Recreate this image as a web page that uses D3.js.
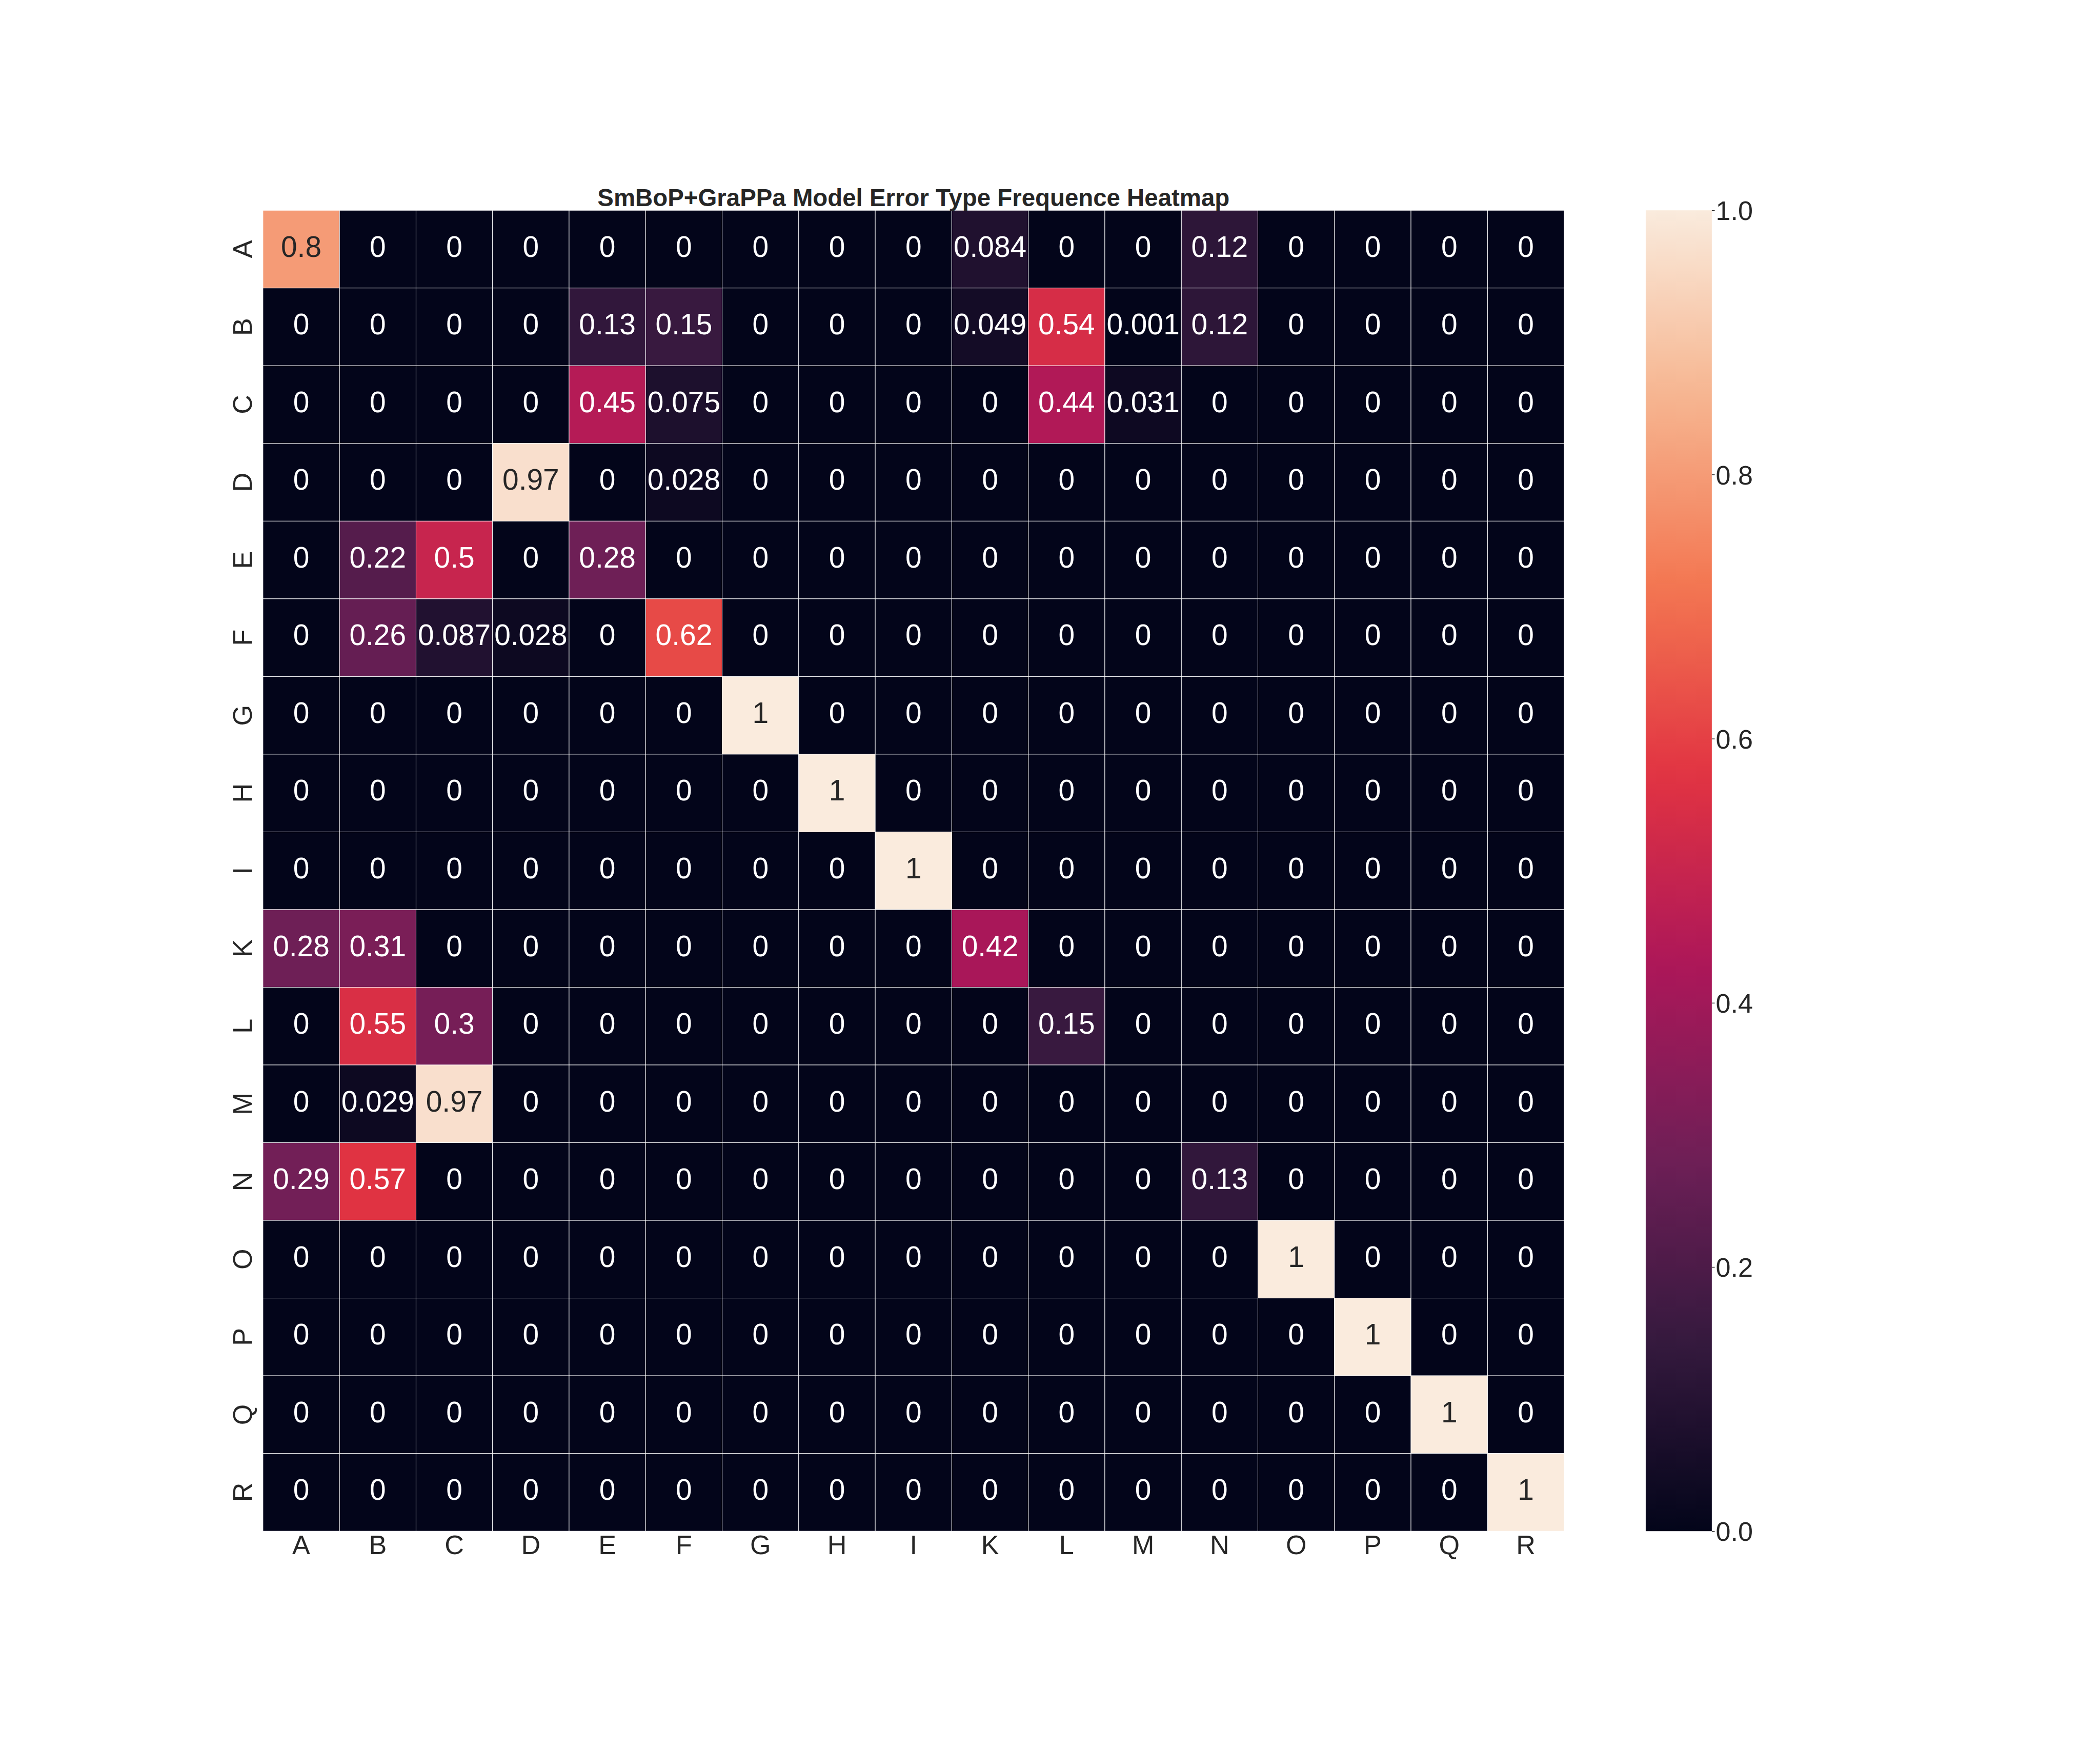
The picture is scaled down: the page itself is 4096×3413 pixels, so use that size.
<!DOCTYPE html>
<html>
<head>
<meta charset="utf-8">
<script src="https://cdn.jsdelivr.net/npm/d3@7"></script>
<style>
  html, body { margin: 0; padding: 0; background: #ffffff; }
  svg { display: block; }
  text { font-family: "Liberation Sans", Arial, sans-serif; }
</style>
</head>
<body>
<svg id="chart" width="4096" height="3413"></svg>
<script>
// ---------------- data ----------------
const titleText = "SmBoP+GraPPa Model Error Type Frequence Heatmap";
const rowLabels = ["A","B","C","D","E","F","G","H","I","K","L","M","N","O","P","Q","R"];
const colLabels = ["A","B","C","D","E","F","G","H","I","K","L","M","N","O","P","Q","R"];
const rowA = [0.8, 0, 0, 0, 0, 0, 0, 0, 0, 0.084, 0, 0, 0.12, 0, 0, 0, 0];
const rowB = [0, 0, 0, 0, 0.13, 0.15, 0, 0, 0, 0.049, 0.54, 0.001, 0.12, 0, 0, 0, 0];
const rowC = [0, 0, 0, 0, 0.45, 0.075, 0, 0, 0, 0, 0.44, 0.031, 0, 0, 0, 0, 0];
const rowD = [0, 0, 0, 0.97, 0, 0.028, 0, 0, 0, 0, 0, 0, 0, 0, 0, 0, 0];
const rowE = [0, 0.22, 0.5, 0, 0.28, 0, 0, 0, 0, 0, 0, 0, 0, 0, 0, 0, 0];
const rowF = [0, 0.26, 0.087, 0.028, 0, 0.62, 0, 0, 0, 0, 0, 0, 0, 0, 0, 0, 0];
const rowG = [0, 0, 0, 0, 0, 0, 1, 0, 0, 0, 0, 0, 0, 0, 0, 0, 0];
const rowH = [0, 0, 0, 0, 0, 0, 0, 1, 0, 0, 0, 0, 0, 0, 0, 0, 0];
const rowI = [0, 0, 0, 0, 0, 0, 0, 0, 1, 0, 0, 0, 0, 0, 0, 0, 0];
const rowK = [0.28, 0.31, 0, 0, 0, 0, 0, 0, 0, 0.42, 0, 0, 0, 0, 0, 0, 0];
const rowL = [0, 0.55, 0.3, 0, 0, 0, 0, 0, 0, 0, 0.15, 0, 0, 0, 0, 0, 0];
const rowM = [0, 0.029, 0.97, 0, 0, 0, 0, 0, 0, 0, 0, 0, 0, 0, 0, 0, 0];
const rowN = [0.29, 0.57, 0, 0, 0, 0, 0, 0, 0, 0, 0, 0, 0.13, 0, 0, 0, 0];
const rowO = [0, 0, 0, 0, 0, 0, 0, 0, 0, 0, 0, 0, 0, 1, 0, 0, 0];
const rowP = [0, 0, 0, 0, 0, 0, 0, 0, 0, 0, 0, 0, 0, 0, 1, 0, 0];
const rowQ = [0, 0, 0, 0, 0, 0, 0, 0, 0, 0, 0, 0, 0, 0, 0, 1, 0];
const rowR = [0, 0, 0, 0, 0, 0, 0, 0, 0, 0, 0, 0, 0, 0, 0, 0, 1];
const matrix = [rowA,rowB,rowC,rowD,rowE,rowF,rowG,rowH,rowI,rowK,rowL,rowM,rowN,rowO,rowP,rowQ,rowR];
const colorbarTicks = [0, 0.2, 0.4, 0.6, 0.8, 1.0];

// rocket colormap key colours
const rocketStops = [0, 1/7, 2/7, 3/7, 4/7, 5/7, 6/7, 1];
const rocketColors = ["#03051a","#35193e","#701f57","#ad1759","#e13342","#f37651","#f6b48f","#faebdd"];

// ---------------- layout (reference pixel space, scaled 0.948) ----------------
const S = 0.948;
const plot = { left: 541, right: 3218, top: 432.7, bottom: 3150 };
const cbar = { left: 3386, right: 3522 };
const textDark = "#262626";

const svg = d3.select("#chart");
const root = svg.append("g").attr("transform", `scale(${S})`);

const x = d3.scaleBand().domain(colLabels).range([plot.left, plot.right]).padding(0);
const y = d3.scaleBand().domain(rowLabels).range([plot.top, plot.bottom]).padding(0);
const color = d3.scaleLinear().domain(rocketStops).range(rocketColors)
  .interpolate(d3.interpolateRgb).clamp(true);
const fmt = d3.format(".2~g");

const cells = [];
matrix.forEach((row, i) => row.forEach((v, j) => cells.push({ r: rowLabels[i], c: colLabels[j], v })));

// cells
root.append("g").selectAll("rect").data(cells).join("rect")
  .attr("x", d => x(d.c)).attr("y", d => y(d.r))
  .attr("width", x.bandwidth()).attr("height", y.bandwidth())
  .attr("fill", d => color(d.v))
  .attr("stroke", "#ffffff").attr("stroke-width", 1);

// annotations
function luminance(c) {
  const rgb = d3.rgb(c);
  const f = ch => { ch /= 255; return ch <= 0.03928 ? ch / 12.92 : Math.pow((ch + 0.055) / 1.055, 2.4); };
  return 0.2126 * f(rgb.r) + 0.7152 * f(rgb.g) + 0.0722 * f(rgb.b);
}
root.append("g").selectAll("text").data(cells).join("text")
  .attr("x", d => x(d.c) + x.bandwidth() / 2)
  .attr("y", d => y(d.r) + y.bandwidth() / 2)
  .attr("dy", "0.26em")
  .attr("text-anchor", "middle")
  .attr("font-size", 60)
  .attr("fill", d => luminance(color(d.v)) > 0.408 ? textDark : "#ffffff")
  .text(d => fmt(d.v));

// x axis
const xAxis = root.append("g").attr("transform", `translate(0,${plot.bottom})`)
  .call(d3.axisBottom(x).tickSize(0).tickPadding(8));
xAxis.select(".domain").remove();
xAxis.selectAll("text").attr("font-size", 55).attr("fill", textDark)
  .attr("font-family", "Liberation Sans, Arial, sans-serif");

// y axis (rotated labels)
const yAxis = root.append("g").attr("transform", `translate(${plot.left},0)`)
  .call(d3.axisLeft(y).tickSize(0));
yAxis.select(".domain").remove();
yAxis.selectAll("text")
  .attr("x", null).attr("dy", null)
  .attr("text-anchor", "middle")
  .attr("transform", "translate(-23,0) rotate(-90)")
  .attr("font-size", 55).attr("fill", textDark)
  .attr("font-family", "Liberation Sans, Arial, sans-serif");

// title
root.append("text")
  .attr("x", (plot.left + plot.right) / 2).attr("y", 424)
  .attr("text-anchor", "middle")
  .attr("font-size", 50).attr("font-weight", "bold").attr("fill", textDark)
  .text(titleText);

// colorbar
const cy = d3.scaleLinear().domain([0, 1]).range([plot.bottom, plot.top]);
const defs = svg.append("defs");
const grad = defs.append("linearGradient").attr("id", "rocketGrad")
  .attr("x1", 0).attr("y1", 1).attr("x2", 0).attr("y2", 0);
d3.range(0, 1.0001, 0.02).forEach(t => {
  grad.append("stop").attr("offset", t).attr("stop-color", color(t));
});
root.append("rect")
  .attr("x", cbar.left).attr("y", cy(1))
  .attr("width", cbar.right - cbar.left).attr("height", cy(0) - cy(1))
  .attr("fill", "url(#rocketGrad)");
const cAxis = root.append("g").attr("transform", `translate(${cbar.right},0)`)
  .call(d3.axisRight(cy).tickValues(colorbarTicks).tickFormat(d3.format(".1f")).tickSize(6).tickPadding(2));
cAxis.select(".domain").remove();
cAxis.selectAll("line").attr("stroke", textDark).attr("stroke-width", 1.5);
cAxis.selectAll("text").attr("font-size", 55).attr("fill", textDark).attr("dy", "0.36em")
  .attr("font-family", "Liberation Sans, Arial, sans-serif");
</script>
</body>
</html>
